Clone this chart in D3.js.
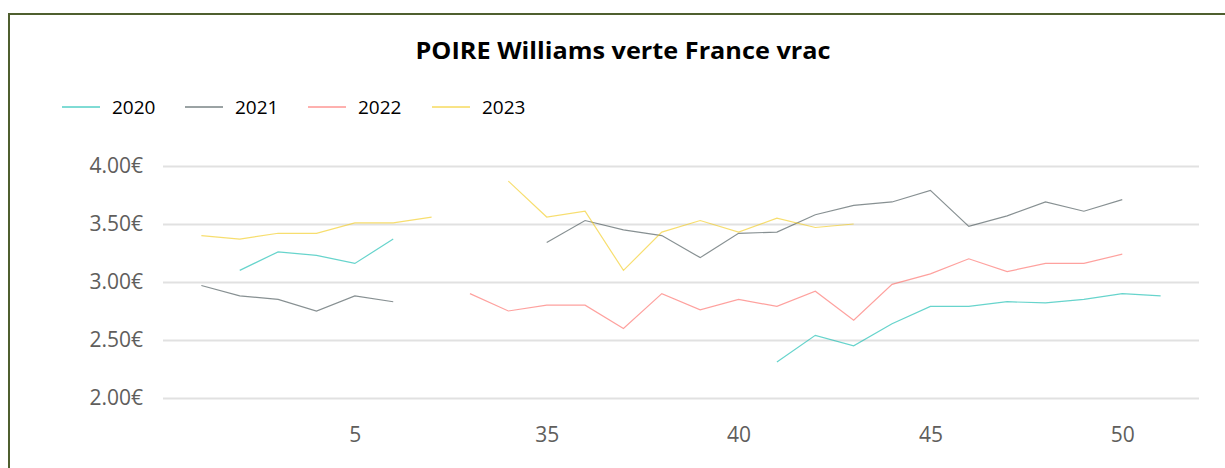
<!DOCTYPE html>
<html>
<head>
<meta charset="utf-8">
<script src="https://cdn.jsdelivr.net/npm/d3@7"></script>
<style>
  body { margin: 0; background: #fff; }
  text { font-family: "Open Sans", "Noto Sans", sans-serif; }
</style>
</head>
<body>
<svg class="chart"></svg>
<script>
// weeks shown on the category axis
var weeks = [1, 2, 3, 4, 5, 6, 7, 33, 34, 35, 36, 37, 38, 39, 40, 41, 42, 43, 44, 45, 46, 47, 48, 49, 50, 51];
var weekTicks = [5, 35, 40, 45, 50];
var years = ["2020", "2021", "2022", "2023"];
var yTicks = [2.0, 2.5, 3.0, 3.5, 4.0];

var values2020 = [null, 3.10, 3.26, 3.23, 3.16, 3.37, null, null, null, null, null, null, null, null, null, 2.31, 2.54, 2.45, 2.64, 2.79, 2.79, 2.83, 2.82, 2.85, 2.90, 2.88];
var values2021 = [2.97, 2.88, 2.85, 2.75, 2.88, 2.83, null, null, null, 3.34, 3.53, 3.45, 3.40, 3.21, 3.42, 3.43, 3.58, 3.66, 3.69, 3.79, 3.48, 3.57, 3.69, 3.61, 3.71, null];
var values2022 = [null, null, null, null, null, null, null, 2.90, 2.75, 2.80, 2.80, 2.60, 2.90, 2.76, 2.85, 2.79, 2.92, 2.67, 2.98, 3.07, 3.20, 3.09, 3.16, 3.16, 3.24, null];
var values2023 = [3.40, 3.37, 3.42, 3.42, 3.51, 3.51, 3.56, null, 3.87, 3.56, 3.61, 3.10, 3.43, 3.53, 3.43, 3.55, 3.47, 3.50, null, null, null, null, null, null, null, null];

var colors = ["#01B8AA", "#374649", "#FD625E", "#F2C80F"];

const canvas = {width: 1225, height: 468};
const plot = {left: 163, right: 1199, top: 166, bottom: 398};

var series = [values2020, values2021, values2022, values2023].map(function (vals, i) {
    return {
        year: years[i],
        color: colors[i],
        points: weeks.map(function (w, j) { return {week: w, value: vals[j]}; })
    };
});

var svg = d3.select(".chart")
    .attr("width", canvas.width)
    .attr("height", canvas.height);

// outer frame
svg.append("rect")
    .attr("x", 9).attr("y", 14)
    .attr("width", 1240).attr("height", 480)
    .attr("fill", "none")
    .attr("stroke", "#4f5f2f")
    .attr("stroke-width", 2);

svg.append("text")
    .attr("x", 623).attr("y", 59)
    .attr("text-anchor", "middle")
    .attr("font-size", 23)
    .attr("font-weight", "bold")
    .attr("fill", "#000")
    .attr("textLength", 415)
    .attr("lengthAdjust", "spacingAndGlyphs")
    .text("POIRE Williams verte France vrac");

const x = d3.scalePoint()
    .domain(weeks)
    .range([plot.left, plot.right])
    .padding(1);

const y = d3.scaleLinear()
    .domain([2, 4])
    .range([plot.bottom, plot.top]);

// gridlines + y labels
const yAxis = d3.axisLeft(y)
    .tickValues(yTicks)
    .tickSize(-(plot.right - plot.left))
    .tickPadding(20)
    .tickFormat(function (d) { return d3.format(".2f")(d) + "€"; });

const gy = svg.append("g")
    .attr("transform", "translate(" + plot.left + ",0)")
    .call(yAxis);
gy.select(".domain").remove();
gy.selectAll(".tick line").attr("stroke", "#e1e1e1").attr("stroke-width", 2);
gy.selectAll(".tick text")
    .attr("font-size", 21)
    .attr("fill", "#605e5c")
    .attr("x", -20);

// x axis
const xAxis = d3.axisBottom(x)
    .tickValues(weekTicks)
    .tickSize(0)
    .tickPadding(29);

const gx = svg.append("g")
    .attr("transform", "translate(0," + plot.bottom + ")")
    .call(xAxis);
gx.select(".domain").remove();
gx.selectAll(".tick text")
    .attr("font-size", 21)
    .attr("fill", "#605e5c");

// lines
const line = d3.line()
    .defined(function (d) { return d.value !== null; })
    .x(function (d) { return x(d.week); })
    .y(function (d) { return y(d.value); });

svg.selectAll(".series")
    .data(series)
    .enter()
    .append("path")
    .classed("series", true)
    .attr("fill", "none")
    .attr("stroke", function (d) { return d.color; })
    .attr("stroke-opacity", 0.6)
    .attr("stroke-width", 1.2)
    .attr("d", function (d) { return line(d.points); });

// legend
const legendX = [62, 185, 308, 432];
const legend = svg.selectAll(".legend-item")
    .data(series)
    .enter()
    .append("g")
    .classed("legend-item", true)
    .attr("transform", function (d, i) { return "translate(" + legendX[i] + ",107)"; });

legend.append("line")
    .attr("x1", 0).attr("x2", 38)
    .attr("stroke", function (d) { return d.color; })
    .attr("stroke-width", 1);

legend.append("text")
    .attr("x", 50).attr("y", 7)
    .attr("font-size", 19)
    .attr("fill", "#000")
    .text(function (d) { return d.year; });
</script>
</body>
</html>
